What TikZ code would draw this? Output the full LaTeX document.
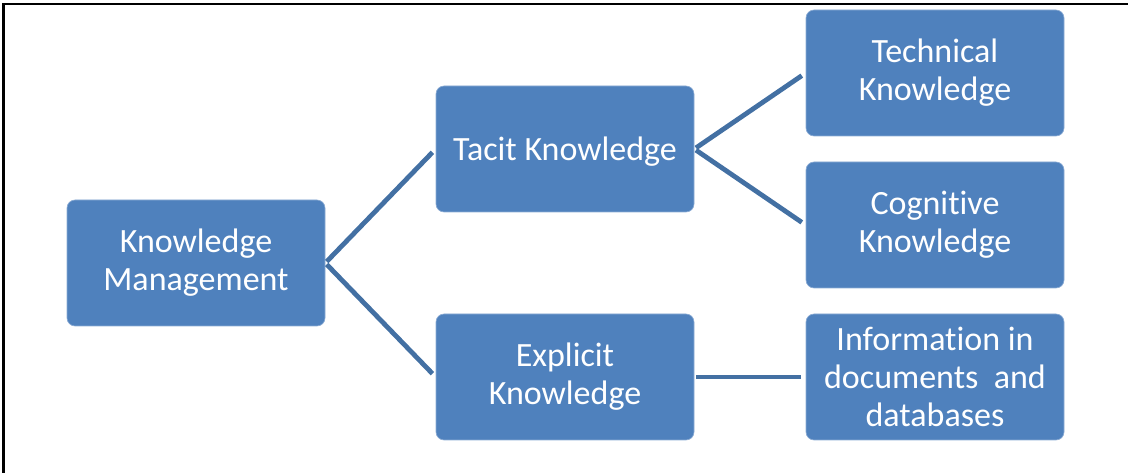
\documentclass[tikz,border=0pt]{standalone}
\usepackage{fontspec}
\setmainfont{Carlito}[Ligatures=NoCommon]
\definecolor{boxblue}{RGB}{79,129,189}
\definecolor{boxedge}{RGB}{140,172,212}
\definecolor{linkblue}{RGB}{67,112,163}
\begin{document}
\begin{tikzpicture}[x=0.75pt,y=-0.75pt,
  kbox/.style={rectangle, rounded corners=6pt, fill=boxblue, draw=boxedge, line width=0.5pt,
    minimum width=193.5pt, minimum height=94.5pt, inner sep=0pt, align=center, text=white,
    font=\fontsize{25.5}{28.5}\selectfont, execute at begin node={\rule{0pt}{21pt}}},
  link/.style={draw=linkblue, line width=3.6pt, shorten <=1.5pt, shorten >=3.5pt}]
\useasboundingbox (0,0) rectangle (1128,473);
\draw[line width=1.9pt] (3.5,473) -- (3.5,4) -- (1128,4);
\node[kbox] (km) at (196,263) {Knowledge\\Management};
\node[kbox] (tacit) at (565,149) {Tacit Knowledge};
\node[kbox] (explicit) at (565,377) {Explicit\\Knowledge};
\node[kbox] (tech) at (935,73) {Technical\\Knowledge};
\node[kbox] (cog) at (935,225) {Cognitive\\Knowledge};
\node[kbox] (info) at (935,377) {Information in\\documents~ and\\databases};
\draw[link] (km.east) -- (tacit.west);
\draw[link] (km.east) -- (explicit.west);
\draw[link] (tacit.east) -- (tech.west);
\draw[link] (tacit.east) -- (cog.west);
\draw[link] (explicit.east) -- (info.west);
\end{tikzpicture}
\end{document}
